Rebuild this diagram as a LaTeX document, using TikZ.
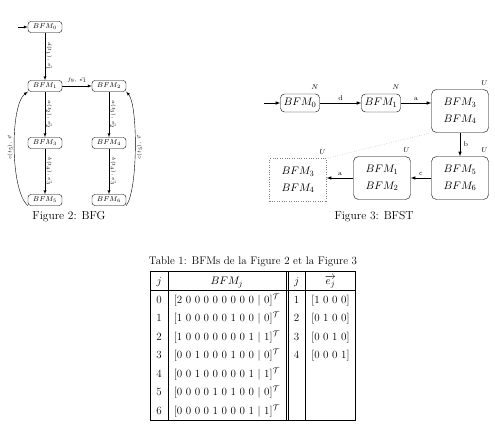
\documentclass[tikz,border=0pt]{standalone}
\usepackage{amsmath}
\usetikzlibrary{positioning}

\renewcommand{\arraystretch}{1.36}

\tikzset{
  bfgnode/.style={draw, rounded corners=3pt, font=\scriptsize, minimum width=34pt, minimum height=11pt, inner sep=1pt},
  bfstnode/.style={draw, rounded corners=4pt, font=\fontsize{11}{13.6}\selectfont, minimum width=39pt, minimum height=18pt, inner sep=2pt},
  bfstpair/.style={draw, rounded corners=5pt, font=\fontsize{11}{13.6}\selectfont, minimum width=57pt, minimum height=43pt, align=center, inner sep=2pt},
  elabel/.style={font=\tiny, midway, sloped, inner sep=1.5pt},
  slabel/.style={font=\scriptsize, midway, above, inner sep=2pt},
  statelabel/.style={font=\scriptsize, inner sep=1pt, anchor=south east},
  captext/.style={font=\fontsize{11.5}{14}\selectfont},
}

\begin{document}
\begin{tikzpicture}[x=1pt, y=-1pt, >=latex]
\useasboundingbox (0,0) rectangle (495,426);

% Figure 2 : BFG
\node[bfgnode] (g0) at (45,27) {$BFM_0$};
\node[bfgnode] (g1) at (45,86) {$BFM_1$};
\node[bfgnode] (g2) at (109,86) {$BFM_2$};
\node[bfgnode] (g3) at (45,143) {$BFM_3$};
\node[bfgnode] (g4) at (109,143) {$BFM_4$};
\node[bfgnode] (g5) at (45,200) {$BFM_5$};
\node[bfgnode] (g6) at (109,200) {$BFM_6$};
\coordinate (g0in) at (18,27);

\draw[->] (g0in) -- (g0);
\draw[->] (g0) -- node[elabel, above] {$d(t_1),\,\vec{e_1}$} (g1);
\draw[->] (g1) -- node[font=\tiny, above, inner sep=3pt] {$f_9,\,\vec{e_1}$} (g2);
\draw[->] (g1) -- node[elabel, above] {$a(t_2),\,\vec{e_2}$} (g3);
\draw[->] (g2) -- node[elabel, above] {$a(t_3),\,\vec{e_2}$} (g4);
\draw[->] (g3) -- node[elabel, above] {$b(t_4),\,\vec{e_3}$} (g5);
\draw[->] (g4) -- node[elabel, above] {$b(t_4),\,\vec{e_3}$} (g6);
\draw[->] (g5.south west) .. controls (10,190) and (10,105) .. node[elabel, above] {$c(t_5),\,\vec{v}$} (g1.south west);
\draw[->] (g6.south east) .. controls (138,190) and (138,105) .. node[elabel, below] {$c(t_5),\,\vec{v}$} (g2.south east);

\node[captext] (cap2) at (69,217) {Figure 2: BFG};

% Figure 3 : BFST
\node[bfstnode] (s0) at (300,103) {$BFM_0$};
\node[bfstnode] (s1) at (381,103) {$BFM_1$};
\node[bfstpair] (s34) at (460,111) {$BFM_3$\\[3pt]$BFM_4$};
\node[bfstpair] (s56) at (460,178) {$BFM_5$\\[3pt]$BFM_6$};
\node[bfstpair] (s12) at (382,178) {$BFM_1$\\[3pt]$BFM_2$};
\node[bfstpair, draw=gray, dotted, rounded corners=0pt] (sd) at (298,180) {$BFM_3$\\[3pt]$BFM_4$};
\coordinate (s0in) at (264,103);

\node[statelabel] (n0) at ([yshift=3pt]s0.north east) {$N$};
\node[statelabel] (n1) at ([yshift=3pt]s1.north east) {$N$};
\node[statelabel] (u34) at ([yshift=3pt]s34.north east) {$U$};
\node[statelabel] (u56) at ([yshift=3pt]s56.north east) {$U$};
\node[statelabel] (u12) at ([yshift=3pt]s12.north east) {$U$};
\node[statelabel] (ud) at ([yshift=3pt]sd.north east) {$U$};

\draw[->, semithick] (s0in) -- (s0);
\draw[->, semithick] (s0) -- node[slabel] {d} (s1);
\draw[->, semithick] (s1) -- node[slabel] {a} (s1 -| s34.west);
\draw[->, semithick] (s34) -- node[font=\scriptsize, right] {b} (s56);
\draw[->, semithick] (s56) -- node[slabel] {c} (s12);
\draw[->, semithick] (s12) -- node[slabel] {a} (s12 -| sd.east);
\draw[dotted, gray] (s34.south west) -- (sd.north east);

\node[captext] (cap3) at (374,217) {Figure 3: BFST};

% Table 1
\node[font=\fontsize{11}{13.6}\selectfont] (cap4) at (253,262) {Table 1: BFMs de la Figure 2 et la Figure 3};
\node[anchor=north, inner sep=0pt, font=\fontsize{11}{13.6}\selectfont] (tab) at (253,271) {%
\begin{tabular}{|c|c||c|c|}
\hline
$j$ & $BFM_j$ & $j$ & $\overrightarrow{e_j}$\\
\hline
0 & [2 0 0 0 0 0 0 0 0 $|$ 0]$^{\mathcal{T}}$ & 1 & [1 0 0 0]\\
1 & [1 0 0 0 0 0 1 0 0 $|$ 0]$^{\mathcal{T}}$ & 2 & [0 1 0 0]\\
2 & [1 0 0 0 0 0 0 0 1 $|$ 1]$^{\mathcal{T}}$ & 3 & [0 0 1 0]\\
3 & [0 0 1 0 0 0 1 0 0 $|$ 0]$^{\mathcal{T}}$ & 4 & [0 0 0 1]\\
4 & [0 0 1 0 0 0 0 0 1 $|$ 1]$^{\mathcal{T}}$ & & \\
5 & [0 0 0 0 1 0 1 0 0 $|$ 0]$^{\mathcal{T}}$ & & \\
6 & [0 0 0 0 1 0 0 0 1 $|$ 1]$^{\mathcal{T}}$ & & \\
\hline
\end{tabular}};
\end{tikzpicture}
\end{document}
